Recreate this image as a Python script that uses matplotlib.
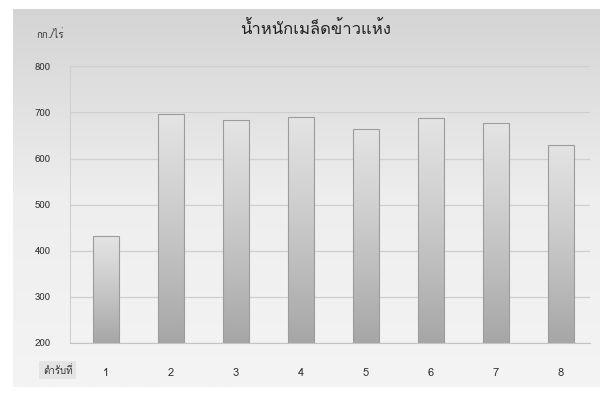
import matplotlib.pyplot as plt
import numpy as np
from matplotlib.colors import LinearSegmentedColormap

plt.rcParams['font.family'] = ['Loma', 'Noto Sans Thai Looped', 'DejaVu Sans']

# ข้อมูล
treatments = ['1', '2', '3', '4', '5', '6', '7', '8']
weight = [432, 696, 683, 691, 665, 687, 678, 630]
yticks = [200, 300, 400, 500, 600, 700, 800]

fig = plt.figure(figsize=(6.06, 3.95), dpi=100)
fig.patch.set_facecolor('white')

# พื้นหลังกรอบกราฟ (ไล่สี)
bg_cmap = LinearSegmentedColormap.from_list('bg', ['#f4f4f4', '#eeeeee', '#d4d4d4'])
bg = fig.add_axes([0.022, 0.02, 0.968, 0.958], zorder=0)
grad = np.linspace(0, 1, 256).reshape(-1, 1)
bg.imshow(grad, cmap=bg_cmap, aspect='auto', extent=[0, 1, 0, 1], origin='lower')
bg.set_axis_off()

ax = fig.add_axes([0.116, 0.132, 0.858, 0.70], zorder=1)
ax.patch.set_alpha(0.0)

x = np.arange(len(treatments))
bars = ax.bar(x, weight, width=0.39, color='none', edgecolor='#9c9c9c', linewidth=0.8, zorder=3)

# ไล่สีแท่ง
bar_cmap = LinearSegmentedColormap.from_list('bar', ['#a6a6a6', '#bdbdbd', '#d2d2d2', '#e4e4e4'])
for b in bars:
    x0 = b.get_x()
    w = b.get_width()
    h = b.get_height()
    im = ax.imshow(grad, cmap=bar_cmap, aspect='auto',
                   extent=[x0, x0 + w, 200, h], origin='lower', zorder=2)
    im.set_clip_path(b)

ax.set_xlim(-0.55, 7.45)
ax.set_ylim(200, 800)
ax.set_yticks(yticks)
ax.set_yticklabels([str(v) for v in yticks], fontsize=7, color='#333333')
ax.set_xticks(x)
ax.set_xticklabels(treatments, fontsize=8, color='#333333')
ax.tick_params(axis='x', length=0, pad=18)
ax.tick_params(axis='y', length=0, pad=14)
ax.grid(axis='y', color='#cfcfcf', linewidth=0.9, zorder=1)
for s in ['top', 'right']:
    ax.spines[s].set_visible(False)
ax.spines['left'].set_color('#d0d0d0')
ax.spines['bottom'].set_color('#c4c4c4')

fig.text(0.52, 0.925, 'น้ำหนักเมล็ดข้าวแห้ง', ha='center', va='center', fontsize=12,
         color='#222222')
fig.text(0.083, 0.912, 'กก./ไร่', ha='center', va='center', fontsize=7, color='#333333')
fig.text(0.095, 0.063, 'ตำรับที่', ha='center', va='center', fontsize=7, color='#333333',
         bbox=dict(boxstyle='square,pad=0.35', facecolor='#e4e4e4', edgecolor='none'))

fig.savefig('out.png', dpi=100)
